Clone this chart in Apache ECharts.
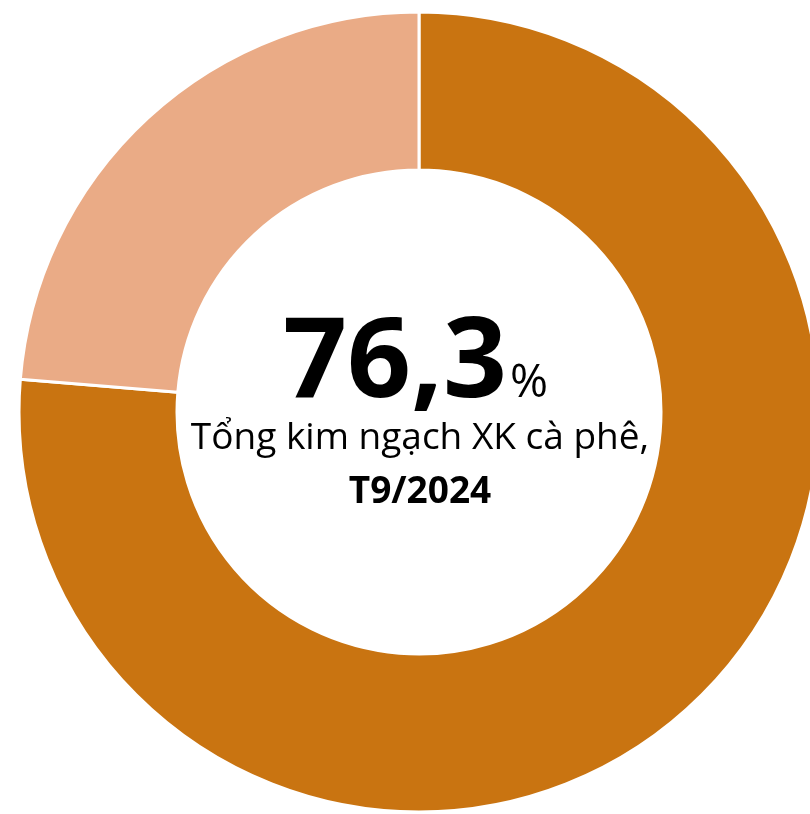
<!DOCTYPE html>
<html>
<head>
<meta charset="utf-8">
<script src="https://cdn.jsdelivr.net/npm/echarts@6/dist/echarts.min.js"></script>
<style>
  html, body { margin: 0; padding: 0; background: #fff; }
  #chart { width: 810px; height: 814px; }
</style>
</head>
<body>
<div id="chart"></div>
<script>
// Share of coffee export value, September 2024
const categories = ['Nhóm chính', 'Còn lại'];
const shares = [76.3, 23.7];
const colors = ['#C97411', '#EAAB86'];
const captionLine = 'Tổng kim ngạch XK cà phê,';
const periodLabel = 'T9/2024';

// headline uses a decimal comma
const headline = shares[0].toFixed(1).replace('.', ',');
const cx = 420;

const chart = echarts.init(document.getElementById('chart'), null, { renderer: 'canvas' });
chart.setOption({
  animation: false,
  backgroundColor: '#ffffff',
  series: [{
    type: 'pie',
    center: [419, 412],
    radius: [242, 400],
    startAngle: 90,
    clockwise: true,
    silent: true,
    label: { show: false },
    labelLine: { show: false },
    itemStyle: { borderColor: '#ffffff', borderWidth: 3 },
    data: categories.map((name, i) => ({
      name, value: shares[i], itemStyle: { color: colors[i] }
    }))
  }],
  graphic: [
    {
      type: 'text', x: 507, y: 309,
      style: {
        text: headline, align: 'right', verticalAlign: 'top',
        fontFamily: 'Open Sans', fontWeight: 'bold', fontSize: 112, fill: '#000'
      }
    },
    {
      type: 'text', x: 510, y: 361,
      style: {
        text: '%', align: 'left', verticalAlign: 'top',
        fontFamily: 'Open Sans', fontSize: 46, fill: '#000'
      }
    },
    {
      type: 'text', x: cx, y: 420,
      style: {
        text: captionLine, align: 'center', verticalAlign: 'top',
        fontFamily: 'Open Sans', fontSize: 37, fill: '#000'
      }
    },
    {
      type: 'text', x: cx, y: 474,
      style: {
        text: periodLabel, align: 'center', verticalAlign: 'top',
        fontFamily: 'Open Sans', fontWeight: 'bold', fontSize: 37, fill: '#000'
      }
    }
  ]
});
</script>
</body>
</html>
